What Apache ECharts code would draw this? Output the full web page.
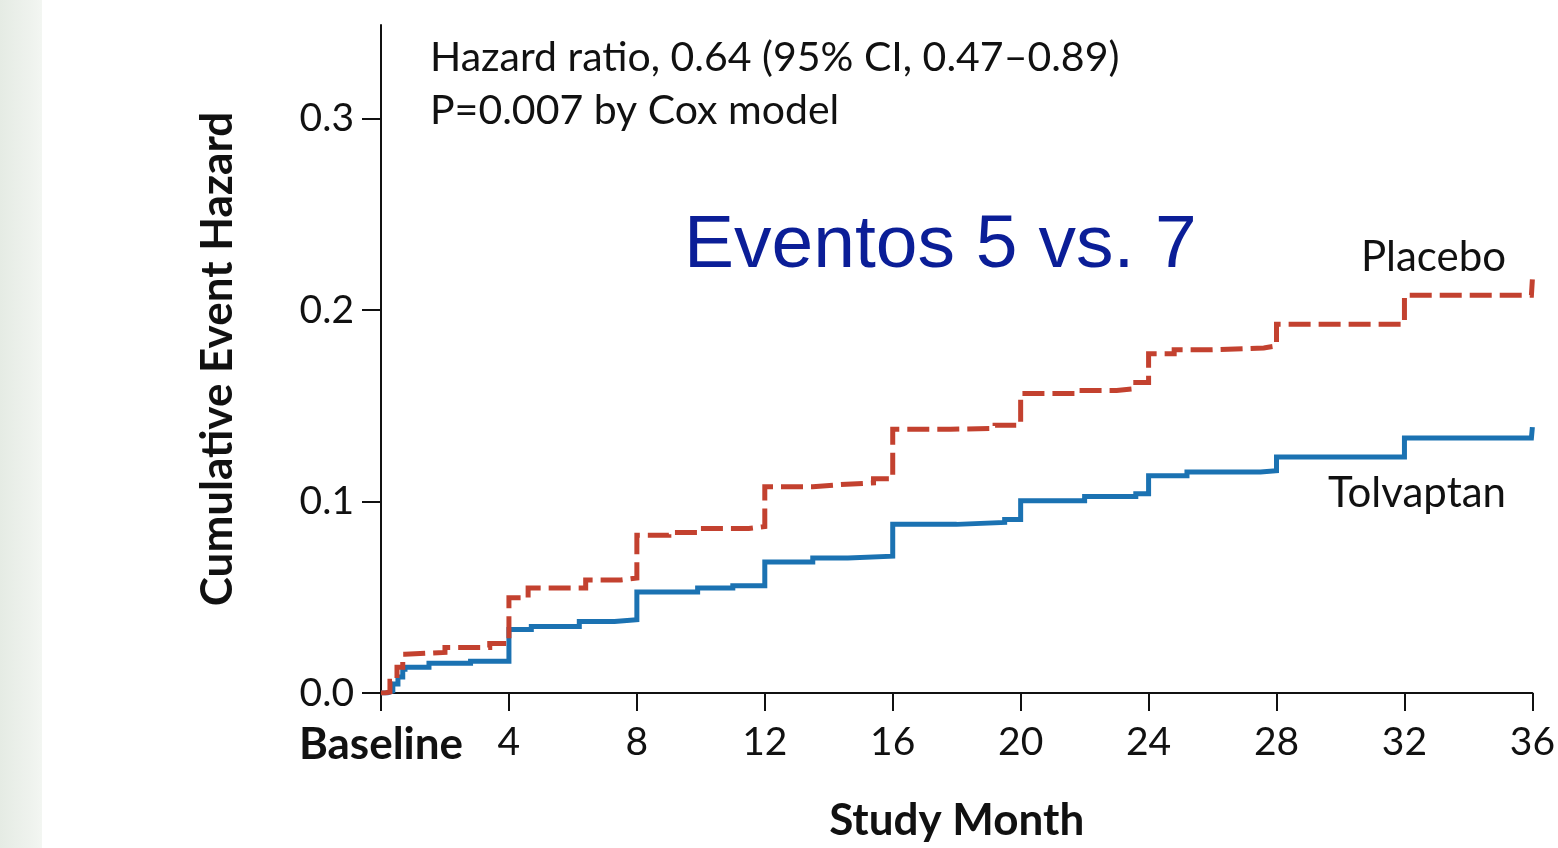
<!DOCTYPE html>
<html>
<head>
<meta charset="utf-8">
<script src="https://cdn.jsdelivr.net/npm/echarts@6/dist/echarts.min.js"></script>
<style>
html,body{margin:0;padding:0;background:#ffffff;}
#chart{width:1558px;height:848px;}
</style>
</head>
<body>
<div id="chart"></div>
<script>
// ---- Data ----
const tolvaptanMonths = [0, 0.2, 0.37, 0.53, 0.68, 0.75, 1.5, 2.8, 4.0, 4.7, 6.2, 7.3, 8.0, 9.9, 11.0, 12.0, 13.5, 14.6, 16.0, 18.0, 19.5, 20.0, 22.0, 23.6, 24.0, 25.2, 27.5, 28.0, 32.0, 35.97, 36.0];
const tolvaptanHazard = [0, 0.001, 0.0047, 0.0083, 0.0124, 0.0135, 0.0155, 0.0166, 0.0332, 0.0347, 0.0373, 0.0383, 0.0528, 0.0549, 0.0560, 0.0684, 0.0705, 0.0715, 0.0881, 0.0891, 0.0907, 0.1005, 0.1026, 0.1041, 0.1135, 0.1155, 0.1161, 0.1233, 0.1332, 0.1332, 0.1389];

const placeboMonths = [0, 0.12, 0.28, 0.5, 0.68, 0.75, 2.0, 3.4, 4.0, 4.6, 6.4, 7.5, 8.0, 9.0, 10.0, 11.5, 12.0, 13.5, 14.3, 15.4, 16.0, 17.8, 19.2, 20.0, 21.8, 23.0, 23.6, 24.0, 24.8, 26.0, 27.6, 28.0, 32.0, 35.97, 36.0];
const placeboHazard = [0, 0.0005, 0.0062, 0.0135, 0.0202, 0.0212, 0.0238, 0.0259, 0.0497, 0.0549, 0.0591, 0.0601, 0.0824, 0.0839, 0.0860, 0.0870, 0.1078, 0.1088, 0.1098, 0.1119, 0.1378, 0.1383, 0.1399, 0.1565, 0.1580, 0.1590, 0.1622, 0.1772, 0.1793, 0.1803, 0.1813, 0.1927, 0.2078, 0.2078, 0.2161];

const xTickValues = [0, 4, 8, 12, 16, 20, 24, 28, 32, 36];
const xTickLabels = ['Baseline', '4', '8', '12', '16', '20', '24', '28', '32', '36'];
const yTickValues = [0, 0.1, 0.2, 0.3];
const yTickLabels = ['0.0', '0.1', '0.2', '0.3'];

const seriesNames = ['Tolvaptan', 'Placebo'];
const annotationLines = ['Hazard ratio, 0.64 (95% CI, 0.47\u20130.89)', 'P=0.007 by Cox model'];
const overlayText = 'Eventos 5 vs. 7';
const xAxisTitle = 'Study Month';
const yAxisTitle = 'Cumulative Event Hazard';

// ---- Build chart ----
const FONT = 'Lato, "Open Sans", sans-serif';
const pairs = (xs, ys) => xs.map((x, i) => [x, ys[i]]);

const chart = echarts.init(document.getElementById('chart'), null, {renderer: 'canvas'});

const option = {
  animation: false,
  backgroundColor: '#ffffff',
  grid: {left: 381, right: 23, top: 25, bottom: 149, containLabel: false},
  xAxis: {
    type: 'value',
    min: 0, max: 36, interval: 4,
    name: xAxisTitle,
    nameLocation: 'middle',
    nameGap: 106,
    nameTextStyle: {fontFamily: FONT, fontWeight: 'bold', fontSize: 44, color: '#111'},
    axisLine: {show: true, onZero: false, lineStyle: {color: '#111', width: 2}},
    axisTick: {show: true, inside: false, length: 18, lineStyle: {color: '#111', width: 2}},
    splitLine: {show: false},
    axisLabel: {
      margin: 30,
      fontFamily: FONT, fontSize: 39, color: '#111',
      formatter: function (v) {
        const i = xTickValues.indexOf(v);
        if (i < 0) return '';
        return i === 0 ? '{b|' + xTickLabels[i] + '}' : xTickLabels[i];
      },
      rich: {b: {fontFamily: FONT, fontWeight: 'bold', fontSize: 44, color: '#111'}}
    }
  },
  yAxis: {
    type: 'value',
    min: 0, max: 0.349, interval: 0.1,
    name: yAxisTitle,
    nameLocation: 'middle',
    nameGap: 141,
    nameRotate: 90,
    nameTextStyle: {fontFamily: FONT, fontWeight: 'bold', fontSize: 44, color: '#111'},
    axisLine: {show: true, lineStyle: {color: '#111', width: 2}},
    axisTick: {show: true, inside: false, length: 19, customValues: yTickValues, lineStyle: {color: '#111', width: 2}},
    splitLine: {show: false},
    axisLabel: {
      margin: 27,
      customValues: yTickValues,
      fontFamily: FONT, fontSize: 39, color: '#111',
      formatter: function (v) {
        let best = -1;
        yTickValues.forEach((t, i) => { if (Math.abs(t - v) < 1e-6) best = i; });
        return best < 0 ? '' : yTickLabels[best];
      }
    }
  },
  series: [
    {
      name: seriesNames[0],
      type: 'line',
      step: 'end',
      showSymbol: false,
      symbol: 'none',
      data: pairs(tolvaptanMonths, tolvaptanHazard),
      lineStyle: {color: '#1b72b2', width: 5, cap: 'butt', join: 'miter'},
      z: 3
    },
    {
      name: seriesNames[1],
      type: 'line',
      step: 'end',
      showSymbol: false,
      symbol: 'none',
      data: pairs(placeboMonths, placeboHazard),
      lineStyle: {color: '#c3412f', width: 5, type: [22, 8], cap: 'butt', join: 'miter'},
      z: 4
    }
  ],
  graphic: [
    {
      type: 'rect', z: -10, silent: true,
      shape: {x: 0, y: 0, width: 42, height: 848},
      style: {fill: new echarts.graphic.LinearGradient(0, 0, 1, 0, [
        {offset: 0, color: '#e5ebe4'},
        {offset: 0.7, color: '#eef2ed'},
        {offset: 1, color: '#f3f6f2'}
      ])}
    },
    {
      type: 'text', left: 430, top: 37, silent: true,
      style: {text: annotationLines[0], fontFamily: FONT, fontSize: 41, fill: '#111'}
    },
    {
      type: 'text', left: 430, top: 90, silent: true,
      style: {text: annotationLines[1], fontFamily: FONT, fontSize: 41, fill: '#111'}
    },
    {
      type: 'text', left: 684, top: 209, silent: true,
      style: {text: overlayText, fontFamily: '"Liberation Sans", Arial, sans-serif', fontSize: 75, fill: '#0b1e97'}
    },
    {
      type: 'text', right: 52, top: 236, silent: true,
      style: {text: seriesNames[1], fontFamily: FONT, fontSize: 42, fill: '#111'}
    },
    {
      type: 'text', right: 52, top: 472, silent: true,
      style: {text: seriesNames[0], fontFamily: FONT, fontSize: 42, fill: '#111'}
    }
  ]
};

chart.setOption(option);
</script>
</body>
</html>
